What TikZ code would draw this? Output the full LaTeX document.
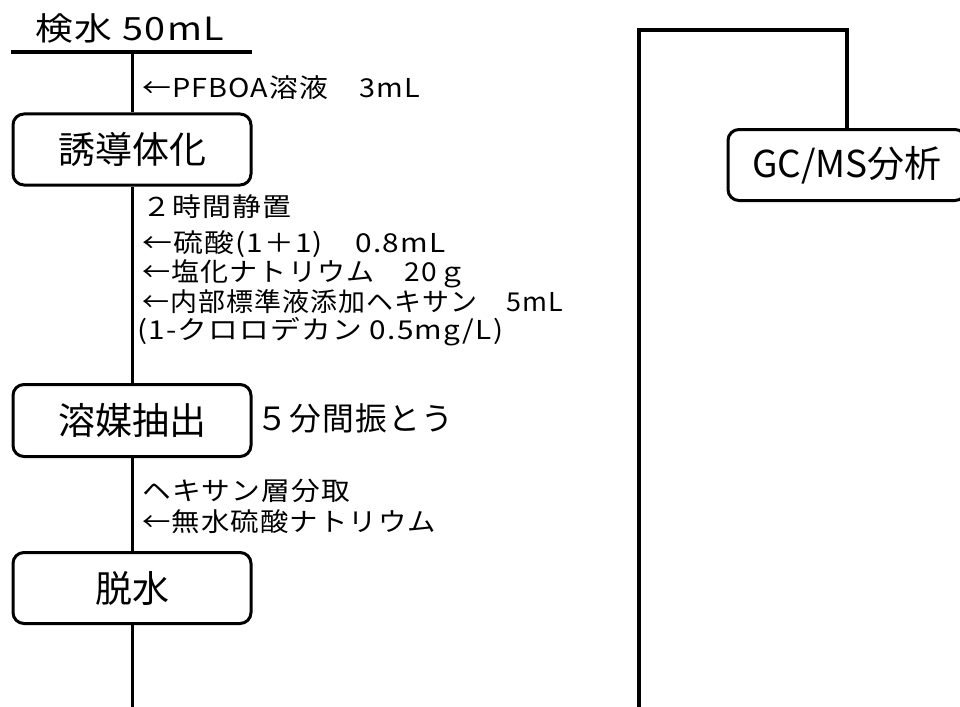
\documentclass[tikz,border=0pt]{standalone}
\usepackage{fontspec}
\usepackage{graphicx}
\newfontfamily\jp{Noto Sans CJK JP}
\newfontfamily\jpsp[LetterSpace=4]{Noto Sans CJK JP}
\newcommand\fitw[2]{\resizebox{#1pt}{\height}{#2}}
\tikzset{
  proc/.style={draw, line width=3pt, rounded corners=11pt, minimum width=238pt,
    minimum height=71pt, inner sep=0pt, fill=white,
    font=\jp\fontsize{37}{40}\selectfont},
  note/.style={anchor=west, inner sep=0pt, font=\jpsp\fontsize{26}{28}\selectfont},
  bignote/.style={anchor=west, inner sep=0pt, font=\jpsp\fontsize{32}{34}\selectfont},
  flow/.style={line width=3pt},
  bracket/.style={line width=3.5pt}
}
\begin{document}
\begin{tikzpicture}[x=1pt,y=-1pt]
\clip (0,0) rectangle (960,706);
\fill[white] (0,0) rectangle (960,706);
% title
\node[bignote] (title) at (35,28) {\fitw{189}{検水 50mL}};
\coordinate (tl) at (11,52);
\coordinate (tr) at (252,52);
\coordinate (top) at (132,52);
\draw[bracket] (tl) -- (tr);
% process boxes
\node[proc] (b1) at (132,149.5) {誘導体化};
\node[proc, minimum height=72pt] (b2) at (132,420.5) {溶媒抽出};
\node[proc] (b3) at (132,588) {脱水};
\node[proc] (gc) at (847,165) {GC/MS分析};
% connectors
\coordinate (bot) at (132,712);
\draw[flow] (top) -- (b1.north);
\draw[flow] (b1.south) -- (b2.north);
\draw[flow] (b2.south) -- (b3.north);
\draw[flow] (b3.south) -- (bot);
\coordinate (rb) at (639,712);
\coordinate (rt) at (639,30);
\coordinate (rr) at (847,30);
\draw[bracket] (rb) -- (rt) -- (rr) -- (gc.north);
% annotations
\node[note] (n1) at (142,88) {\fitw{278}{←PFBOA溶液　3mL}};
\node[note] (n2) at (142,207) {\fitw{149}{２時間静置}};
\node[note] (n3) at (142,244) {\fitw{303}{←硫酸(1＋1)　0.8mL}};
\node[note] (n4) at (142,274) {\fitw{324}{←塩化ナトリウム　20ｇ}};
\node[note] (n5) at (142,302) {\fitw{421}{←内部標準液添加ヘキサン　5mL}};
\node[note] (n6) at (137,332) {\fitw{366}{(1-クロロデカン 0.5mg/L)}};
\node[bignote] (n7) at (256,418) {\fitw{197}{５分間振とう}};
\node[note] (n8) at (142,491) {\fitw{208}{ヘキサン層分取}};
\node[note] (n9) at (142,522) {\fitw{294}{←無水硫酸ナトリウム}};
\end{tikzpicture}
\end{document}
